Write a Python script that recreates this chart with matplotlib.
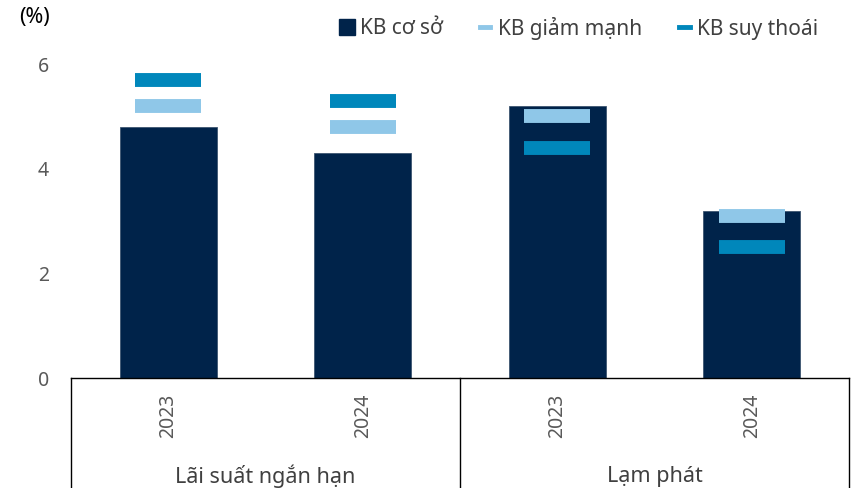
import matplotlib.pyplot as plt
import numpy as np
from matplotlib.lines import Line2D

plt.rcParams['font.family'] = ['Noto Sans', 'DejaVu Sans']

# Data
groups = ['Lãi suất ngắn hạn', 'Lạm phát']
years = ['2023', '2024', '2023', '2024']
base = [4.8, 4.3, 5.2, 3.2]          # KB cơ sở
severe = [5.2, 4.8, 5.0, 3.1]        # KB giảm mạnh
recession = [5.7, 5.3, 4.4, 2.5]     # KB suy thoái

c_base = '#00234a'
c_severe = '#8fc7e8'
c_rec = '#0087bb'
txt = '#404040'
tick_c = '#595959'

fig = plt.figure(figsize=(8.51, 4.88), dpi=100)
ax = fig.add_axes([71 / 851, 110 / 488, 778 / 851, 340 / 488])

x = np.arange(len(base))
ax.bar(x, base, width=0.5, color=c_base, edgecolor='#3d5570', linewidth=0.6,
       zorder=2)
hw = 0.17
ax.hlines(severe, x - hw, x + hw, colors=c_severe, linewidth=10, zorder=3)
ax.hlines(recession, x - hw, x + hw, colors=c_rec, linewidth=10, zorder=3)

ax.set_xlim(-0.5, 3.5)
ax.set_ylim(0, 6.5)
ax.set_yticks([0, 2, 4, 6])
ax.tick_params(axis='y', length=0, labelsize=14, labelcolor=tick_c, pad=16)
ax.set_xticks(x)
ax.set_xticklabels(years, rotation=90, fontsize=14, color=tick_c)
ax.tick_params(axis='x', length=0, pad=11)
for s in ['top', 'right', 'left']:
    ax.spines[s].set_visible(False)
ax.spines['bottom'].set_color('black')
ax.spines['bottom'].set_linewidth(1)

# group separators below the axis
for xs in [0, 0.5, 1]:
    ax.plot([xs, xs], [0, -0.33], transform=ax.transAxes, color='black',
            linewidth=1, clip_on=False)
ax.text(0.25, -0.29, groups[0], transform=ax.transAxes, ha='center',
        va='center', fontsize=15.5, color=txt)
ax.text(0.75, -0.29, groups[1], transform=ax.transAxes, ha='center',
        va='center', fontsize=15.5, color=txt)

fig.text(35 / 851, 1 - 18 / 488, '(%)', ha='center', va='center',
         fontsize=15.5, color='black')

# legend
handles = [
    Line2D([], [], marker='s', color=c_base, linestyle='none', markersize=11),
    Line2D([], [], color=c_severe, linewidth=3.5),
    Line2D([], [], color=c_rec, linewidth=3.5),
]
fig.legend(handles, ['KB cơ sở', 'KB giảm mạnh', 'KB suy thoái'],
           loc='center', bbox_to_anchor=(580 / 851, 1 - 28 / 488), ncol=3,
           frameon=False, fontsize=15, handlelength=0.5, handletextpad=0.35,
           columnspacing=1.8, labelcolor=txt)

fig.savefig('out.png', dpi=100)
